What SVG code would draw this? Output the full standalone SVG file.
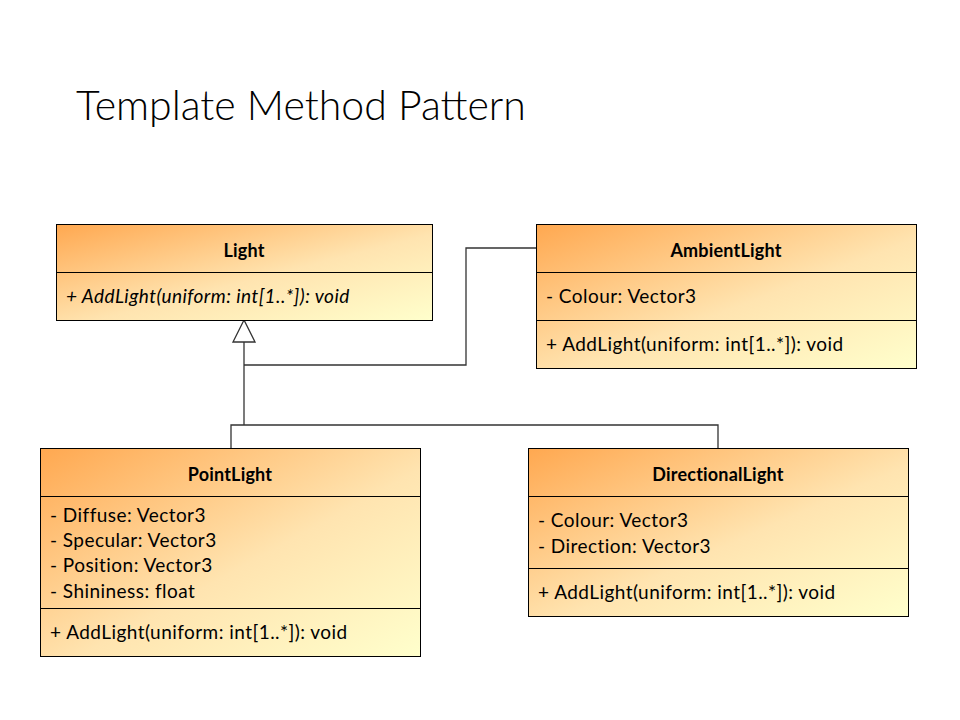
<svg xmlns="http://www.w3.org/2000/svg" width="960" height="720" viewBox="0 0 960 720">
<defs>
<linearGradient id="g" x1="0" y1="0" x2="1" y2="1" gradientUnits="objectBoundingBox">
<stop offset="0" stop-color="#FFA850"/>
<stop offset="0.55" stop-color="#FFE4B0"/>
<stop offset="1" stop-color="#FFFFCC"/>
</linearGradient>
<style>
.box{fill:url(#g);stroke:#000;stroke-width:1}
.div{stroke:#000;stroke-width:1}
.t{font-family:Lato,"Open Sans",sans-serif;font-size:19px;letter-spacing:0.45px;fill:#000}
.h{font-weight:bold;text-anchor:middle;font-size:18px;letter-spacing:0.2px}
.i{font-style:italic}
.c{fill:none;stroke:#333;stroke-width:1.3}
</style>
</defs>
<rect width="960" height="720" fill="#fff"/>
<text x="76" y="120" font-family="Lato,'Open Sans',sans-serif" font-weight="300" font-size="41" fill="#000">Template Method Pattern</text>

<g id="connectors">
<polyline class="c" points="244,342 244,425"/>
<polyline class="c" points="244,365 466,365 466,248 536,248"/>
<polyline class="c" points="231,448 231,425 718,425 718,448"/>
<polygon points="244,320 233,342 255,342" fill="#fff" stroke="#333" stroke-width="1.3"/>
</g>

<g id="Light">
<rect class="box" x="56.5" y="224.5" width="376" height="96"/>
<line class="div" x1="56.5" y1="272.5" x2="432.5" y2="272.5"/>
<text class="t h" x="244" y="257">Light</text>
<text class="t i" x="66" y="303">+ AddLight(uniform: int[1..*]): void</text>
</g>

<g id="AmbientLight">
<rect class="box" x="536.5" y="224.5" width="380" height="144"/>
<line class="div" x1="536.5" y1="272.5" x2="916.5" y2="272.5"/>
<line class="div" x1="536.5" y1="320.5" x2="916.5" y2="320.5"/>
<text class="t h" x="726" y="257">AmbientLight</text>
<text class="t" x="546" y="303">- Colour: Vector3</text>
<text class="t" x="546" y="351">+ AddLight(uniform: int[1..*]): void</text>
</g>

<g id="PointLight">
<rect class="box" x="40.5" y="448.5" width="380" height="208"/>
<line class="div" x1="40.5" y1="496.5" x2="420.5" y2="496.5"/>
<line class="div" x1="40.5" y1="608.5" x2="420.5" y2="608.5"/>
<text class="t h" x="230" y="481">PointLight</text>
<text class="t" x="50" y="522">- Diffuse: Vector3</text>
<text class="t" x="50" y="547">- Specular: Vector3</text>
<text class="t" x="50" y="572">- Position: Vector3</text>
<text class="t" x="50" y="598">- Shininess: float</text>
<text class="t" x="50" y="639">+ AddLight(uniform: int[1..*]): void</text>
</g>

<g id="DirectionalLight">
<rect class="box" x="528.5" y="448.5" width="380" height="168"/>
<line class="div" x1="528.5" y1="496.5" x2="908.5" y2="496.5"/>
<line class="div" x1="528.5" y1="568.5" x2="908.5" y2="568.5"/>
<text class="t h" x="718" y="481">DirectionalLight</text>
<text class="t" x="538" y="527">- Colour: Vector3</text>
<text class="t" x="538" y="553">- Direction: Vector3</text>
<text class="t" x="538" y="599">+ AddLight(uniform: int[1..*]): void</text>
</g>
</svg>
